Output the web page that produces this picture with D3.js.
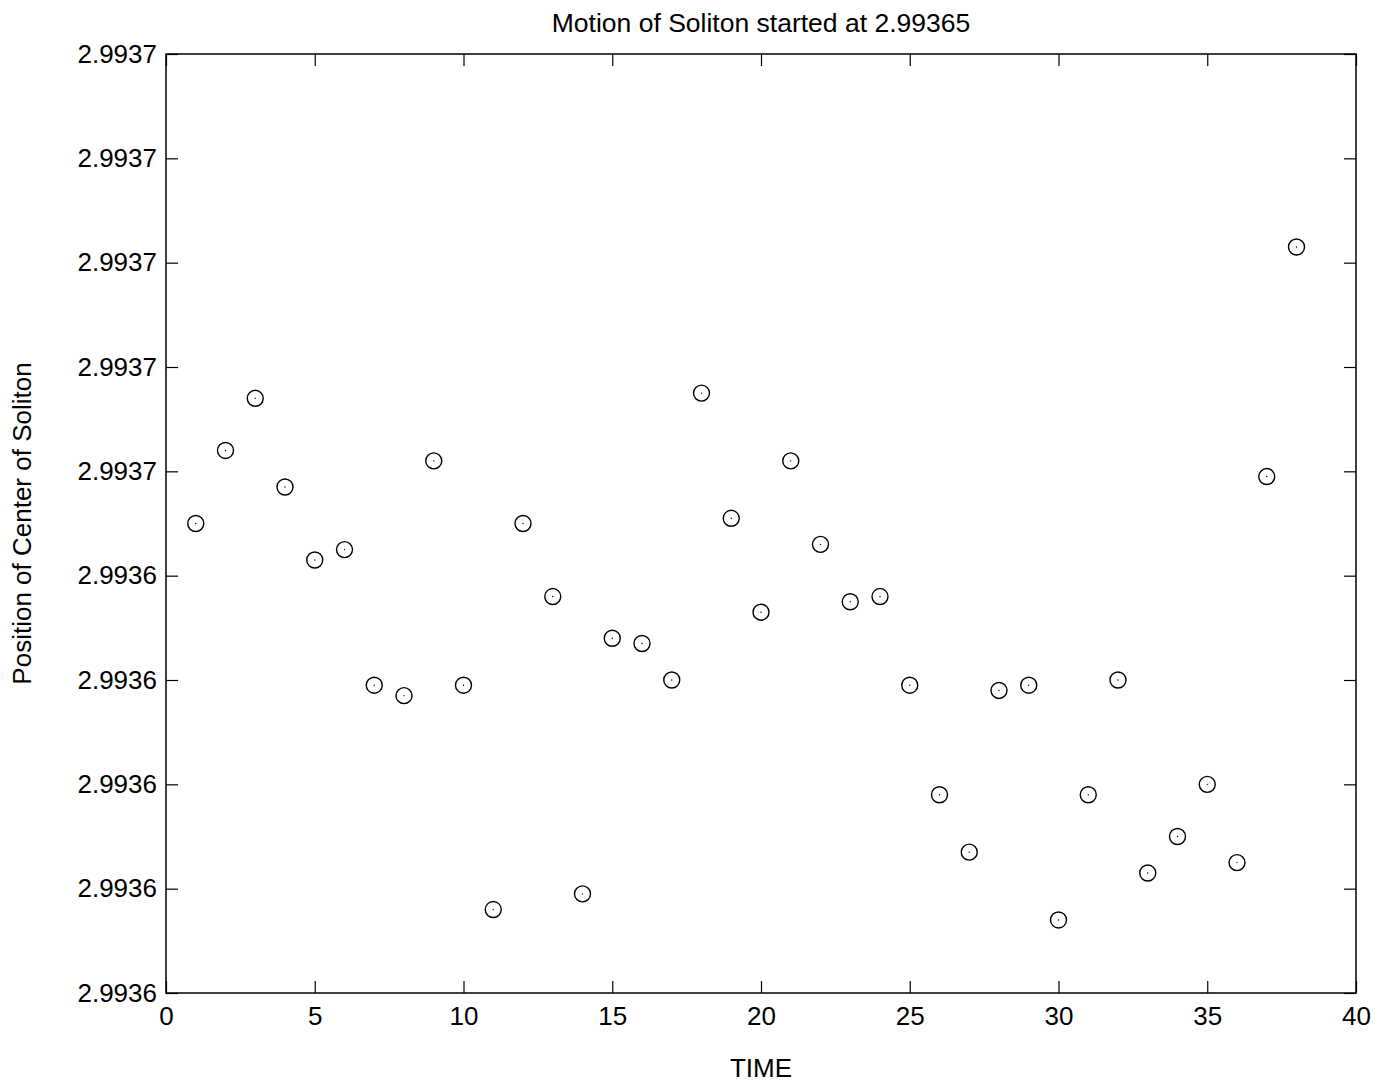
<!DOCTYPE html>
<html>
<head>
<meta charset="utf-8">
<script src="https://cdn.jsdelivr.net/npm/d3@7"></script>
<style>
  html, body { margin: 0; padding: 0; background: #fff; }
  text { font-family: "Liberation Sans", Arial, sans-serif; fill: #000; }
</style>
</head>
<body>
<svg id="chart" width="1386" height="1083"></svg>
<script>
// ---- data ----
const times = [1,2,3,4,5,6,7,8,9,10,11,12,13,14,15,16,17,18,19,20,21,22,23,24,25,26,27,28,29,30,31,32,33,34,35,36,37,38];
const positions = [
  2.993650, 2.993664, 2.993674, 2.993657, 2.993643, 2.993645, 2.993619, 2.993617,
  2.993662, 2.993619, 2.993576, 2.993650, 2.993636, 2.993579, 2.993628, 2.993627,
  2.993620, 2.993675, 2.993651, 2.993633, 2.993662, 2.993646, 2.993635, 2.993636,
  2.993619, 2.993598, 2.993587, 2.993618, 2.993619, 2.993574, 2.993598, 2.993620,
  2.993583, 2.993590, 2.993600, 2.993585, 2.993659, 2.993703
];
const xTicks = [0,5,10,15,20,25,30,35,40];
const yTicks = [2.99356,2.99358,2.99360,2.99362,2.99364,2.99366,2.99368,2.99370,2.99372,2.99374];
const yTickLabels = ["2.9936","2.9936","2.9936","2.9936","2.9936","2.9937","2.9937","2.9937","2.9937","2.9937"];
const title = "Motion of Soliton started at 2.99365";
const xLabel = "TIME";
const yLabel = "Position of Center of Soliton";

// ---- layout ----
const L = 166, R = 1356, T = 54, B = 993;
const svg = d3.select("#chart");
const x = d3.scaleLinear().domain([0, 40]).range([L, R]);
const y = d3.scaleLinear().domain([2.99356, 2.99374]).range([B, T]);
const fs = 26, tickLen = 12;

// frame
svg.append("rect").attr("x", L).attr("y", T).attr("width", R - L).attr("height", B - T)
  .attr("fill", "none").attr("stroke", "#000").attr("stroke-width", 1.5);

// axes (inward ticks on all four sides)
const gB = svg.append("g").attr("transform", `translate(0,${B})`)
  .call(d3.axisBottom(x).tickValues(xTicks).tickSizeInner(-tickLen).tickSizeOuter(0).tickPadding(14).tickFormat(d3.format("d")));
const gT = svg.append("g").attr("transform", `translate(0,${T})`)
  .call(d3.axisTop(x).tickValues(xTicks).tickSizeInner(-tickLen).tickSizeOuter(0).tickFormat(""));
const gL = svg.append("g").attr("transform", `translate(${L},0)`)
  .call(d3.axisLeft(y).tickValues(yTicks).tickSizeInner(-tickLen).tickSizeOuter(0).tickPadding(9)
    .tickFormat((d, i) => yTickLabels[i]));
const gR = svg.append("g").attr("transform", `translate(${R},0)`)
  .call(d3.axisRight(y).tickValues(yTicks).tickSizeInner(-tickLen).tickSizeOuter(0).tickFormat(""));

[gB, gT, gL, gR].forEach(g => {
  g.select(".domain").remove();
  g.selectAll(".tick line").attr("stroke", "#000").attr("stroke-width", 1.2);
  g.selectAll(".tick text").attr("font-size", fs).attr("font-family", '"Liberation Sans", Arial, sans-serif').attr("fill", "#000");
});

// markers: circle with dot
const pts = svg.append("g");
times.forEach((t, i) => {
  pts.append("circle").attr("cx", x(t)).attr("cy", y(positions[i])).attr("r", 8)
    .attr("fill", "none").attr("stroke", "#000").attr("stroke-width", 1.4);
  pts.append("circle").attr("cx", x(t)).attr("cy", y(positions[i])).attr("r", 0.7)
    .attr("fill", "#000");
});

// title & labels
svg.append("text").attr("x", (L + R) / 2).attr("y", 32).attr("text-anchor", "middle")
  .attr("font-size", 26.5).text(title);
svg.append("text").attr("x", (L + R) / 2).attr("y", 1077).attr("text-anchor", "middle")
  .attr("font-size", fs).text(xLabel);
svg.append("text").attr("transform", `translate(31,${(T + B) / 2}) rotate(-90)`)
  .attr("text-anchor", "middle").attr("font-size", fs).text(yLabel);
</script>
</body>
</html>
